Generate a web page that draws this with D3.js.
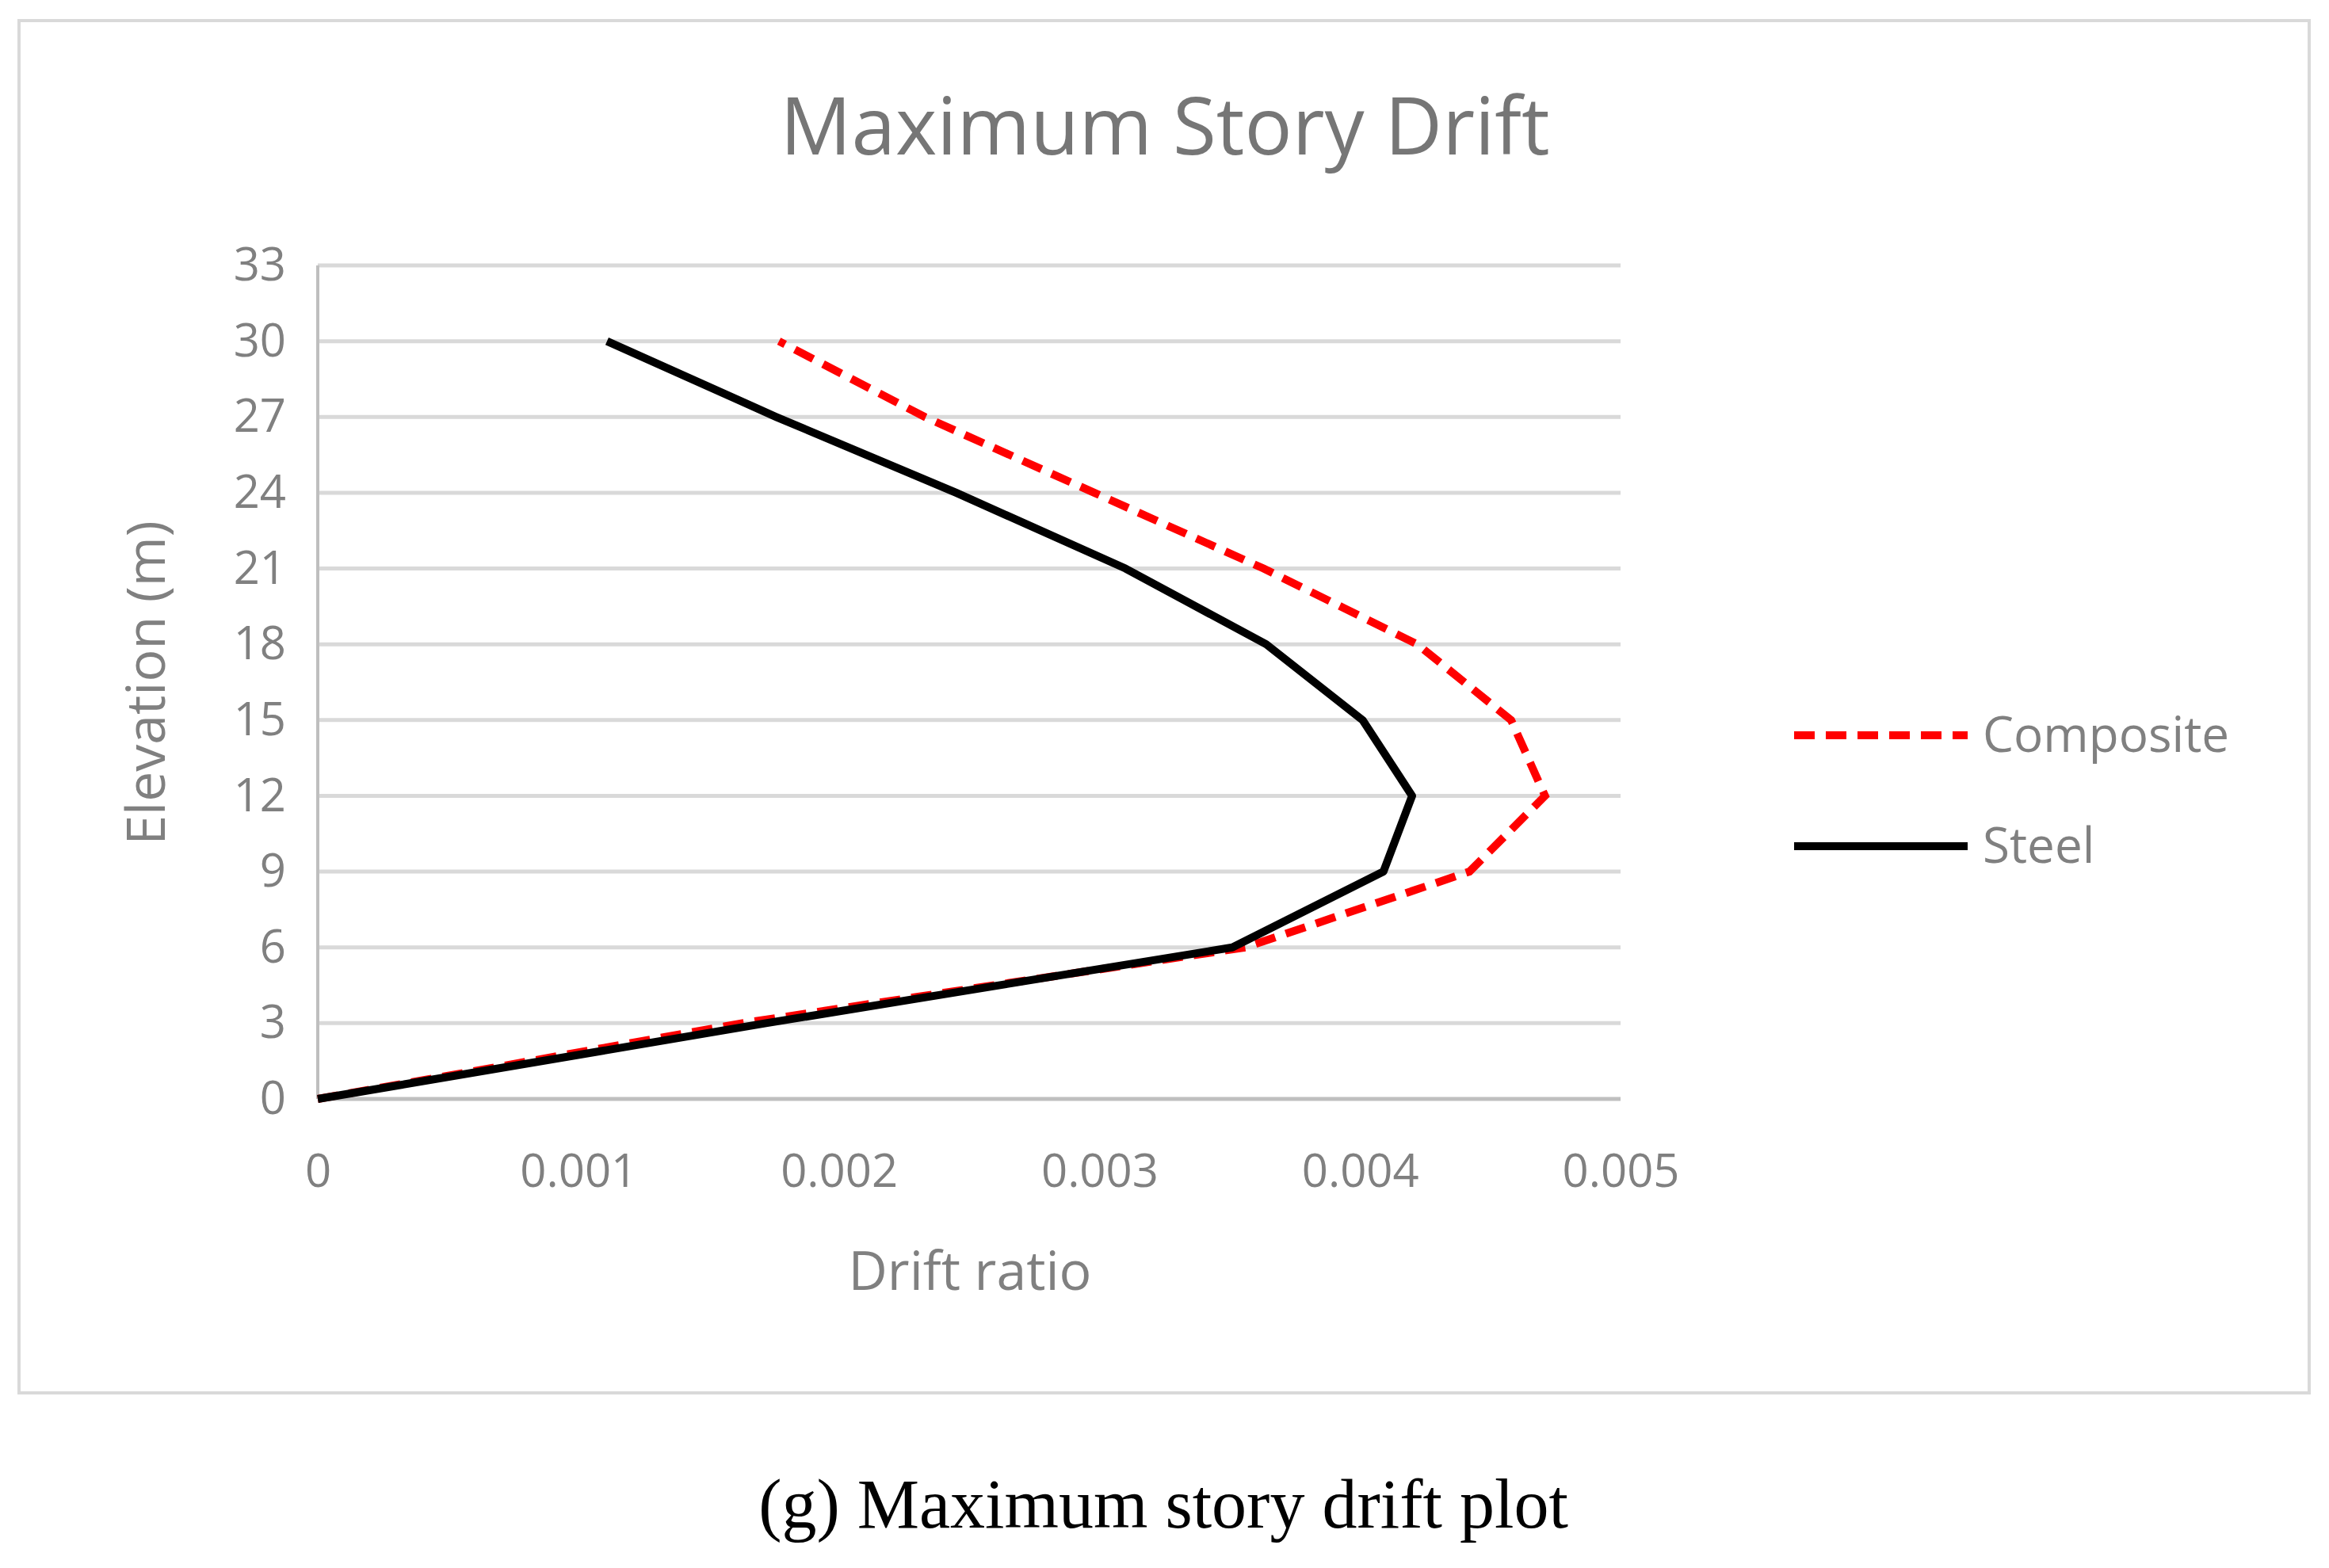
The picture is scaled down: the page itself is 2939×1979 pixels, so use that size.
<!DOCTYPE html><html><head><meta charset="utf-8"><script src="https://cdn.jsdelivr.net/npm/d3@7"></script>
<style>body{margin:0;background:#fff}</style></head><body><svg id="c" width="2939" height="1979"></svg><script>
const elevations=[0,3,6,9,12,15,18,21,24,27,30];
const composite=[0,0.00163,0.00356,0.00442,0.00471,0.00458,0.00422,0.00363,0.00298,0.00233,0.00177];
const steel=[0,0.00172,0.00351,0.00409,0.00420,0.00401,0.00364,0.00310,0.00245,0.00176,0.00111];
const xTicks=[0,0.001,0.002,0.003,0.004,0.005];
const yTicks=[0,3,6,9,12,15,18,21,24,27,30,33];
const svg=d3.select("#c"),F="'Open Sans', sans-serif",G="#808080";
svg.append("rect").attr("x",24).attr("y",26).attr("width",2890).attr("height",1732).attr("fill","#fff").attr("stroke","#d9d9d9").attr("stroke-width",4);
const x=d3.scaleLinear().domain([0,0.005]).range([401,2045]);
const y=d3.scaleLinear().domain([0,33]).range([1387,335]);
svg.append("g").selectAll("line").data(yTicks.slice(1)).join("line").attr("x1",401).attr("x2",2045).attr("y1",d=>y(d)).attr("y2",d=>y(d)).attr("stroke","#d9d9d9").attr("stroke-width",5);
svg.append("line").attr("x1",401).attr("x2",401).attr("y1",y(33)).attr("y2",y(0)).attr("stroke","#bfbfbf").attr("stroke-width",4);
svg.append("line").attr("x1",401).attr("x2",2045).attr("y1",y(0)).attr("y2",y(0)).attr("stroke","#bfbfbf").attr("stroke-width",5);
const yAxis=svg.append("g").attr("transform","translate(401,0)").call(d3.axisLeft(y).tickValues(yTicks).tickSize(0).tickPadding(40));
const xAxis=svg.append("g").attr("transform","translate(0,1387)").call(d3.axisBottom(x).tickValues(xTicks).tickFormat(d=>d===0?"0":d3.format(".3f")(d)).tickSize(0).tickPadding(70));
[yAxis,xAxis].forEach(a=>{a.select(".domain").remove();a.selectAll("text").attr("font-family",F).attr("font-size",58).attr("fill",G);});
const line=d3.line().x(d=>x(d[0])).y(d=>y(d[1]));
svg.append("path").attr("d",line(composite.map((v,i)=>[v,elevations[i]]))).attr("fill","none").attr("stroke","#ff0000").attr("stroke-width",10).attr("stroke-dasharray","26,14");
svg.append("path").attr("d",line(steel.map((v,i)=>[v,elevations[i]]))).attr("fill","none").attr("stroke","#000").attr("stroke-width",10).attr("stroke-linejoin","round");
svg.append("text").attr("x",1470).attr("y",195).attr("text-anchor","middle").attr("font-family",F).attr("font-size",100).attr("fill","#767676").text("Maximum Story Drift");
svg.append("text").attr("x",1224).attr("y",1628).attr("text-anchor","middle").attr("font-family",F).attr("font-size",68).attr("fill",G).text("Drift ratio");
svg.append("text").attr("transform","translate(208,862) rotate(-90)").attr("text-anchor","middle").attr("font-family",F).attr("font-size",68).attr("fill",G).text("Elevation (m)");
const leg=[["Composite","#ff0000","26,14",928],["Steel","#000",null,1068]];
leg.forEach(([t,c,da,ly])=>{svg.append("line").attr("x1",2264).attr("x2",2483).attr("y1",ly).attr("y2",ly).attr("stroke",c).attr("stroke-width",10).attr("stroke-dasharray",da);
svg.append("text").attr("x",2502).attr("y",ly+21).attr("font-family",F).attr("font-size",62).attr("fill",G).text(t);});
svg.append("text").attr("x",1468).attr("y",1928).attr("text-anchor","middle").attr("font-family","'Liberation Serif', serif").attr("font-size",88).attr("fill","#000").text("(g) Maximum story drift plot");
</script></body></html>
